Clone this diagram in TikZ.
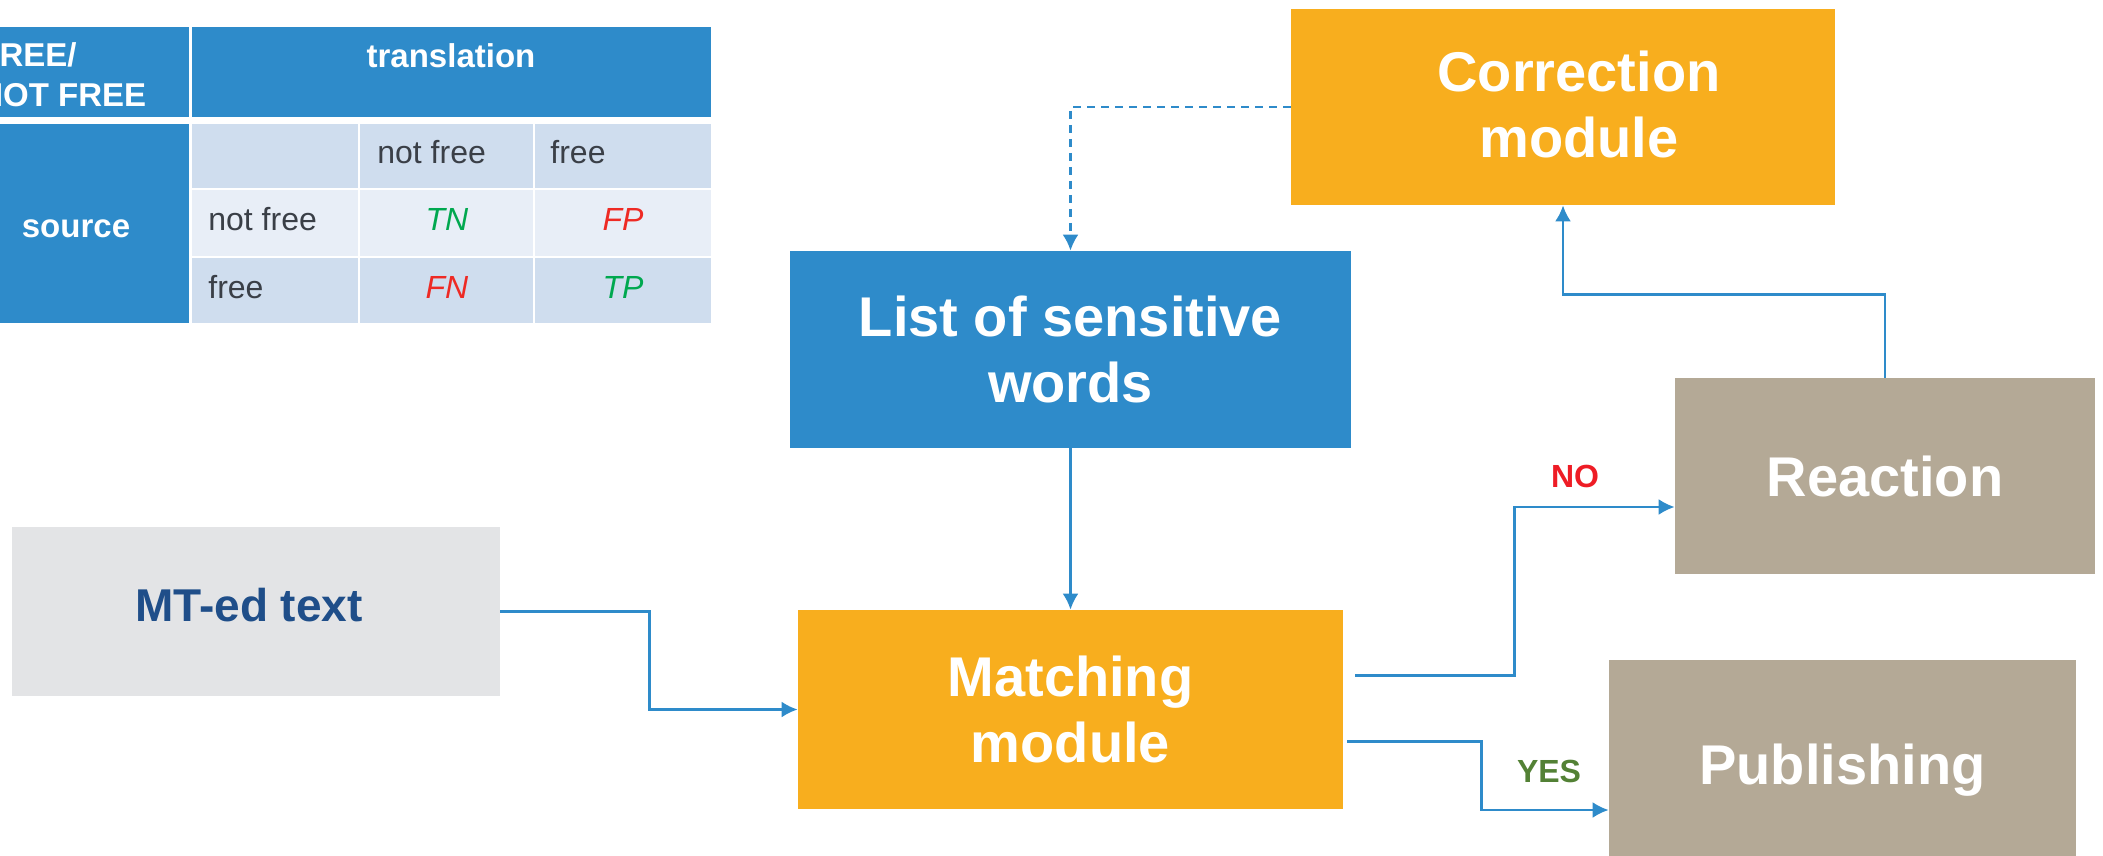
\documentclass[tikz,border=0pt]{standalone}
\usepackage{fontspec}
\setmainfont{Liberation Sans}
\usetikzlibrary{arrows.meta,calc}
\definecolor{cblue}{HTML}{2E8BCA}
\definecolor{corange}{HTML}{F8AE1E}
\definecolor{ctan}{HTML}{B4A996}
\definecolor{cgray}{HTML}{E3E4E6}
\definecolor{cnavy}{HTML}{1F4E89}
\definecolor{trowA}{HTML}{CFDDEE}
\definecolor{trowB}{HTML}{E8EEF7}
\definecolor{ttext}{HTML}{3A3F47}
\definecolor{cgreen}{HTML}{00A84F}
\definecolor{cred}{HTML}{EE2A24}
\definecolor{nored}{HTML}{EE1C25}
\definecolor{yesgreen}{HTML}{538135}
\begin{document}
\begin{tikzpicture}[x=0.5pt,y=-0.5pt,
  box/.style={inner sep=0pt, align=center, text=white,
    font=\bfseries\fontsize{28}{33}\selectfont},
  btext/.style={inner sep=0pt, align=center, text=white,
    font=\bfseries\fontsize{28}{33}\selectfont},
  conn/.style={draw=cblue, line width=1.2pt, -{Latex[length=8pt,width=8pt]}},
  hdr/.style={inner sep=0pt, text=white, font=\bfseries\fontsize{16.5}{19}\selectfont},
  cell/.style={inner sep=0pt, text=ttext, font=\fontsize{16}{19}\selectfont},
  lbl/.style={inner sep=0pt, font=\bfseries\fontsize{16}{19}\selectfont}]
\useasboundingbox (0,0) rectangle (2103,856);

% ---------- table ----------
\begin{scope}
\clip (0,0) rectangle (2103,856);
\fill[cblue] (0,27) rectangle (189,117);
\fill[cblue] (192,27) rectangle (711,117);
\fill[cblue] (0,124) rectangle (189,323);
\fill[trowA] (192,124) rectangle (358,188);
\fill[trowA] (360,124) rectangle (533,188);
\fill[trowA] (535,124) rectangle (711,188);
\fill[trowB] (192,190) rectangle (358,256);
\fill[trowB] (360,190) rectangle (533,256);
\fill[trowB] (535,190) rectangle (711,256);
\fill[trowA] (192,258) rectangle (358,323);
\fill[trowA] (360,258) rectangle (533,323);
\fill[trowA] (535,258) rectangle (711,323);
\node[hdr, anchor=base west] (h1) at (-21,67) {FREE/};
\node[hdr, anchor=base west] (h2) at (-21,107) {NOT FREE};
\end{scope}
\node[hdr, anchor=base] (htr) at (451,68) {translation};
\node[hdr, anchor=base] (hsrc) at (76,237) {source};
\node[cell, anchor=base west] (c01) at (377,163) {not free};
\node[cell, anchor=base west] (c02) at (550,163) {free};
\node[cell, anchor=base west] (c10) at (208,230) {not free};
\node[cell, anchor=base west] (c20) at (208,298) {free};
\node[cell, anchor=base, text=cgreen, font=\itshape\fontsize{16}{19}\selectfont] (tn) at (447,230) {TN};
\node[cell, anchor=base, text=cred, font=\itshape\fontsize{16}{19}\selectfont] (fp) at (623,230) {FP};
\node[cell, anchor=base, text=cred, font=\itshape\fontsize{16}{19}\selectfont] (fn) at (447,298) {FN};
\node[cell, anchor=base, text=cgreen, font=\itshape\fontsize{16}{19}\selectfont] (tp) at (623,298) {TP};

% ---------- boxes ----------
\node[box, fill=corange, minimum width=272pt, minimum height=98pt] (corr) at (1563,107) {};
\node[btext] (corrT) at (1579,104) {Correction\\module};
\node[box, fill=cblue, minimum width=280.5pt, minimum height=98.5pt] (list) at (1070.5,349.5) {List of sensitive\\words};
\node[box, fill=cgray, minimum width=244pt, minimum height=84.5pt] (mt) at (256,611.5) {};
\node[btext, text=cnavy, font=\bfseries\fontsize{23}{28}\selectfont] (mtT) at (249,605) {MT-ed text};
\node[box, fill=corange, minimum width=272.5pt, minimum height=99.5pt] (match) at (1070.5,709.5) {Matching\\module};
\node[box, fill=ctan, minimum width=210pt, minimum height=98pt] (reac) at (1885,476) {Reaction};
\node[box, fill=ctan, minimum width=233.5pt, minimum height=98pt] (pub) at (1842.5,758) {};
\node[btext] (pubT) at (1842.5,770) {Publishing};

% ---------- connectors ----------
\draw[conn, dash pattern=on 4pt off 3pt] (corr.west) -| (list.north);
\draw[conn] (list.south) -- (match.north);
\draw[conn] (mt.east) -- ++(149,0) |- (match.west);
\coordinate (noS) at ($(match.east)+(12,-34)$);
\coordinate (yesS) at ($(match.east)+(4,32)$);
\draw[conn] (noS) -- ++(159,0) |- ($(reac.west)+(0,31)$);
\draw[conn] (yesS) -- ++(134,0) |- ($(pub.west)+(0,52)$);
\draw[conn] (reac.north) -- ++(0,-83) -| (corr.south);

\node[lbl, text=nored] (no) at (1575,476) {NO};
\node[lbl, text=yesgreen] (yes) at (1549,771) {YES};
\end{tikzpicture}
\end{document}
